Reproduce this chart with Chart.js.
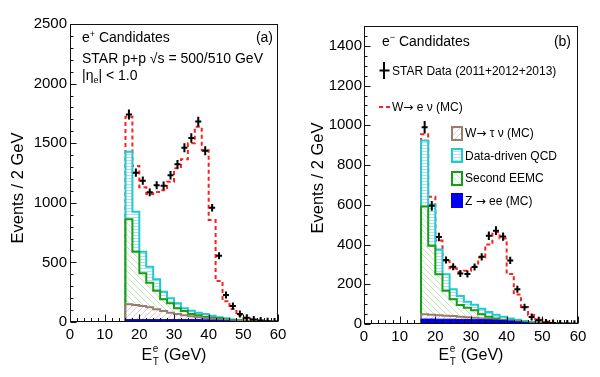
<!DOCTYPE html>
<html><head><meta charset="utf-8">
<script src="https://cdn.jsdelivr.net/npm/chart.js@4.4.1/dist/chart.umd.min.js"></script>
<style>
html,body{margin:0;padding:0;background:#fff;}
body{width:600px;height:377px;overflow:hidden;position:relative;}
canvas{position:absolute;top:0;}
</style></head><body>
<canvas id="cL" width="300" height="377" style="left:0"></canvas>
<canvas id="cR" width="300" height="377" style="left:300px"></canvas>
<script>
// ---- data (2 GeV bins, left edges) ----
const binEdges = [16,18,20,22,24,26,28,30,32,34,36,38,40,42,44,46,48,50,52,54,56,58];
const xTickVals = [0,10,20,30,40,50,60];
const yTickValsPos = [0,500,1000,1500,2000,2500];
const yTickValsNeg = [0,200,400,600,800,1000,1200,1400];

// e+ candidates (panel a)
const posData = [1740,1253,1186,1088,1147,1144,1231,1323,1462,1544,1681,1437,959,556,226,135,67,36,22,12,7,5];
const posZee  = [20,20,20,20,20,20,20,20,20,20,20,18,16,14,10,7,5,3,2,1,1,0];
const posWtau = [128,123,114,103,86,72,58,47,36,28,19,16,12,8,7,5,3,2,1,1,0,1];
const posEEMC = [713,447,274,207,157,98,79,48,36,19,17,11,8,9,5,5,4,3,2,1,1,0];
const posQCD  = [568,335,182,134,95,64,42,42,23,28,22,22,17,8,9,5,4,3,2,1,1,1];
const posWenu = [293,384,540,610,732,851,978,1132,1250,1404,1560,1373,803,306,144,88,41,19,10,6,3,2];

// e- candidates (panel b)
const negData = [990,595,438,322,288,254,252,287,338,444,470,440,320,175,84,35,19,8,5,3,2,1];
const negZee  = [25,25,24,24,24,23,23,22,22,21,20,18,15,11,7,4,2,1,1,0,0,0];
const negWtau = [24,22,20,18,16,14,11,9,6,4,2,1,1,1,1,1,1,1,0,1,0,0];
const negEEMC = [542,347,207,125,85,59,48,38,21,12,6,3,2,1,1,1,1,1,1,0,1,0];
const negQCD  = [333,206,124,84,50,45,30,28,28,23,19,14,10,8,6,4,3,2,1,1,0,1];
const negWenu = [31,41,45,67,105,121,156,193,258,340,415,394,224,127,71,35,16,7,3,1,1,0];

const FONT = "'Liberation Sans', Arial, Helvetica, 'DejaVu Sans', sans-serif";
const fnt = (s, fam) => s + 'px ' + (fam || FONT);
const COL = {red:'#ff1f1f', blue:'#0000f0', tau:'#9a7d6c', eemc:'#169e16', qcd:'#22c8d2'};

function hatch(ctx, color, type){
  const c = document.createElement('canvas'); const n = type==='h'?3:6;
  c.width = n; c.height = n;
  const g = c.getContext('2d');
  g.fillStyle = '#fff'; g.fillRect(0,0,n,n);
  g.strokeStyle = color; g.lineWidth = 1; g.beginPath();
  if (type === 'h') { g.moveTo(0,1.5); g.lineTo(n,1.5); }
  else if (type === 'b') { g.moveTo(-1,-1); g.lineTo(n+1,n+1); g.moveTo(-1,n-1); g.lineTo(1,n+1); g.moveTo(n-1,-1); g.lineTo(n+1,1); }
  else { g.moveTo(-1,n+1); g.lineTo(n+1,-1); g.moveTo(-1,1); g.lineTo(1,-1); g.moveTo(n-1,n+1); g.lineTo(n+1,n-1); }
  g.stroke();
  return ctx.createPattern(c,'repeat');
}

function cumulate(list){
  const out = []; let run = list[0].map(()=>0);
  for (const a of list){ run = run.map((v,i)=>v + a[i]); out.push(run.slice()); }
  return out;
}
function steps(vals){
  const p = [{x: binEdges[0], y: 0}];
  vals.forEach((v,i)=>p.push({x: binEdges[i], y: v}));
  p.push({x: 60, y: vals[vals.length-1]});
  return p;
}
function rich(ctx, x, y, parts){
  let cx = x;
  for (const p of parts){ ctx.font = fnt(p.s, p.f); ctx.fillText(p.t, cx, y + (p.dy||0)); cx += ctx.measureText(p.t).width + (p.gap||0); }
  return cx - x;
}
function xTitle(ctx, cx, base){
  ctx.font = fnt(16); const wE = ctx.measureText('E').width; const wG = ctx.measureText(' (GeV)').width;
  ctx.font = fnt(10); const wS = Math.max(ctx.measureText('e').width, ctx.measureText('T').width);
  let x = cx - (wE + wS + 1 + wG)/2;
  ctx.textAlign = 'left'; ctx.textBaseline = 'alphabetic';
  ctx.font = fnt(16); ctx.fillText('E', x, base); x += wE + 0.5;
  ctx.font = fnt(10); ctx.fillText('e', x, base - 8); ctx.fillText('T', x, base + 5); x += wS + 0.5;
  ctx.font = fnt(16); ctx.fillText(' (GeV)', x, base);
}
function yTitle(ctx, cx, cy){
  ctx.save(); ctx.translate(cx, cy); ctx.rotate(-Math.PI/2);
  ctx.textAlign = 'center'; ctx.textBaseline = 'middle'; ctx.font = fnt(16.5);
  ctx.fillText('Events / 2 GeV', 0, 0); ctx.restore();
}
const ARROW = "'DejaVu Sans', sans-serif";

function makeChart(id, cfg){
  const canvas = document.getElementById(id); const ctx = canvas.getContext('2d');
  const pat = { qcd: hatch(ctx,'#a3e7ec','h'), eemc: hatch(ctx,'#c3e6bd','b'), tau: hatch(ctx,'#dccbd8','f') };
  const [cZ, cT, cE, cQ, cW] = cumulate([cfg.zee, cfg.tau, cfg.eemc, cfg.qcd, cfg.wenu]);
  const line = (vals, color, bg, w, extra) => Object.assign({data: steps(vals), borderColor: color, backgroundColor: bg, borderWidth: w, stepped: true, pointRadius: 0, fill: bg ? 'origin' : false}, extra||{});
  const deco = {
    id: 'deco',
    afterDraw(chart){
      const c = chart.ctx, a = chart.chartArea, xs = chart.scales.x, ys = chart.scales.y;
      c.save();
      // data points with error bars
      c.save(); c.beginPath(); c.rect(a.left, a.top, a.right-a.left, a.bottom-a.top); c.clip();
      c.strokeStyle = '#000'; c.lineWidth = 2;
      chart.getDatasetMeta(0).data.forEach((pt, i) => {
        const v = cfg.data[i]; const e = Math.sqrt(v);
        let y1 = ys.getPixelForValue(v + e), y2 = ys.getPixelForValue(Math.max(0, v - e));
        if (y2 - y1 < 7) { y1 = pt.y - 3.5; y2 = pt.y + 3.5; }
        c.beginPath(); c.moveTo(pt.x, y1); c.lineTo(pt.x, y2);
        c.moveTo(pt.x - 3, pt.y); c.lineTo(pt.x + 3, pt.y); c.stroke();
      });
      c.restore();
      // frame
      c.strokeStyle = '#111'; c.lineWidth = 1;
      const L = Math.round(a.left)+0.5, R = Math.round(a.right)-0.5, T = Math.round(a.top)+0.5, B = Math.round(a.bottom)-0.5;
      c.strokeRect(L, T, R-L, B-T);
      // ticks (inside)
      c.beginPath();
      for (let v = 0; v <= 60; v += 2){ const px = Math.round(xs.getPixelForValue(v))+0.5; const len = v%10===0 ? 7 : 3.5; c.moveTo(px, B); c.lineTo(px, B - len); }
      for (let v = 0; v <= cfg.ymax; v += cfg.minor){ const py = Math.round(ys.getPixelForValue(v))+0.5; const len = v%cfg.major===0 ? 6 : 3; c.moveTo(L, py); c.lineTo(L + len, py); }
      c.stroke();
      // texts
      c.fillStyle = '#000'; c.textBaseline = 'alphabetic'; c.textAlign = 'left';
      cfg.texts(c);
      xTitle(c, (a.left + a.right)/2, 360);
      yTitle(c, 18, cfg.ytitleY);
      c.restore();
    }
  };
  return new Chart(ctx, {
    type: 'line',
    data: { datasets: [
      {data: binEdges.map((e,i)=>({x: e+1, y: cfg.data[i]})), showLine: false, pointRadius: 0, fill: false},
      line(cZ, COL.blue, COL.blue, 1),
      line(cT, COL.tau, pat.tau, 2),
      line(cE, COL.eemc, pat.eemc, 2),
      line(cQ, COL.qcd, pat.qcd, 2),
      line(cW, COL.red, null, 2, {borderDash: [4,3]})
    ]},
    options: {
      responsive: false, animation: false, events: [],
      layout: {padding: {top: cfg.top, right: cfg.right, left: 0, bottom: 0}},
      scales: {
        x: {type: 'linear', min: 0, max: 60,
            grid: {display: false, drawTicks: false}, border: {display: false},
            afterBuildTicks: s => { s.ticks = xTickVals.map(v => ({value: v})); },
            afterFit: s => { s.height = cfg.xh; },
            ticks: {font: {family: FONT, size: 15}, color: '#000', padding: 4, autoSkip: false, maxRotation: 0, callback: v => String(v)}},
        y: {type: 'linear', min: 0, max: cfg.ymax,
            grid: {display: false, drawTicks: false}, border: {display: false},
            afterBuildTicks: s => { s.ticks = cfg.yticks.map(v => ({value: v})); },
            afterFit: s => { s.width = cfg.yw; },
            ticks: {font: {family: FONT, size: 15}, color: '#000', padding: cfg.ypad, autoSkip: false, callback: v => String(v)}}
      },
      plugins: {legend: {display: false}, tooltip: {enabled: false}}
    },
    plugins: [deco]
  });
}

makeChart('cL', {
  data: posData, zee: posZee, tau: posWtau, eemc: posEEMC, qcd: posQCD, wenu: posWenu,
  ymax: 2500, yticks: yTickValsPos, major: 500, minor: 100,
  top: 24, right: 22, yw: 70, xh: 55, ypad: 3, ytitleY: 188,
  texts(c){
    rich(c, 82, 42, [{t:'e', s:14}, {t:'+', s:9, dy:-5}, {t:' Candidates', s:14}]);
    c.textAlign = 'right'; c.font = fnt(14); c.fillText('(a)', 273, 42); c.textAlign = 'left';
    rich(c, 82, 62.5, [{t:'STAR p+p \u221As = 500/510 GeV', s:14}]);
    rich(c, 82, 80, [{t:'|\u03B7', s:14}, {t:'e', s:9, dy:3}, {t:'| < 1.0', s:14}]);
  }
});

makeChart('cR', {
  data: negData, zee: negZee, tau: negWtau, eemc: negEEMC, qcd: negQCD, wenu: negWenu,
  ymax: 1500, yticks: yTickValsNeg, major: 200, minor: 50,
  top: 26, right: 22, yw: 64, xh: 53, ypad: 2, ytitleY: 178,
  texts(c){
    rich(c, 82, 46, [{t:'e', s:14}, {t:'\u2212', s:9, dy:-6}, {t:' Candidates', s:14}]);
    c.textAlign = 'right'; c.font = fnt(14); c.fillText('(b)', 271, 46); c.textAlign = 'left';
    // legend
    c.strokeStyle = '#000'; c.lineWidth = 2;
    c.beginPath(); c.moveTo(84, 62); c.lineTo(84, 79); c.moveTo(79.5, 70.5); c.lineTo(89.5, 70.5); c.stroke();
    rich(c, 92, 75, [{t:'STAR Data (2011+2012+2013)', s:12}]);
    c.strokeStyle = COL.red; c.setLineDash([4,3]);
    c.beginPath(); c.moveTo(79, 107); c.lineTo(91, 107); c.stroke(); c.setLineDash([]);
    rich(c, 92, 111, [{t:'W', s:12}, {t:'\u2192', s:12, f:ARROW}, {t:' e \u03BD (MC)', s:12}]);
    const rows = [
      {y:126, col: COL.tau, fill: hatch(c,'#dccbd8','f'), p:[{t:'W', s:12}, {t:'\u2192', s:12, f:ARROW}, {t:' \u03C4 \u03BD (MC)', s:12}], b:137},
      {y:148, col: COL.qcd, fill: hatch(c,'#a3e7ec','h'), p:[{t:'Data-driven QCD', s:12}], b:160},
      {y:171, col: COL.eemc, fill: hatch(c,'#c3e6bd','b'), p:[{t:'Second EEMC', s:12}], b:182},
      {y:193, col: COL.blue, fill: COL.blue, p:[{t:'Z ', s:12}, {t:'\u2192', s:12, f:ARROW}, {t:' ee (MC)', s:12}], b:205}
    ];
    for (const r of rows){
      c.fillStyle = r.fill; c.fillRect(152, r.y+1, 10, 13);
      c.strokeStyle = r.col; c.lineWidth = 2; c.strokeRect(152, r.y+1, 10, 13);
      c.fillStyle = '#000'; rich(c, 165, r.b, r.p);
    }
  }
});
</script>
</body></html>
